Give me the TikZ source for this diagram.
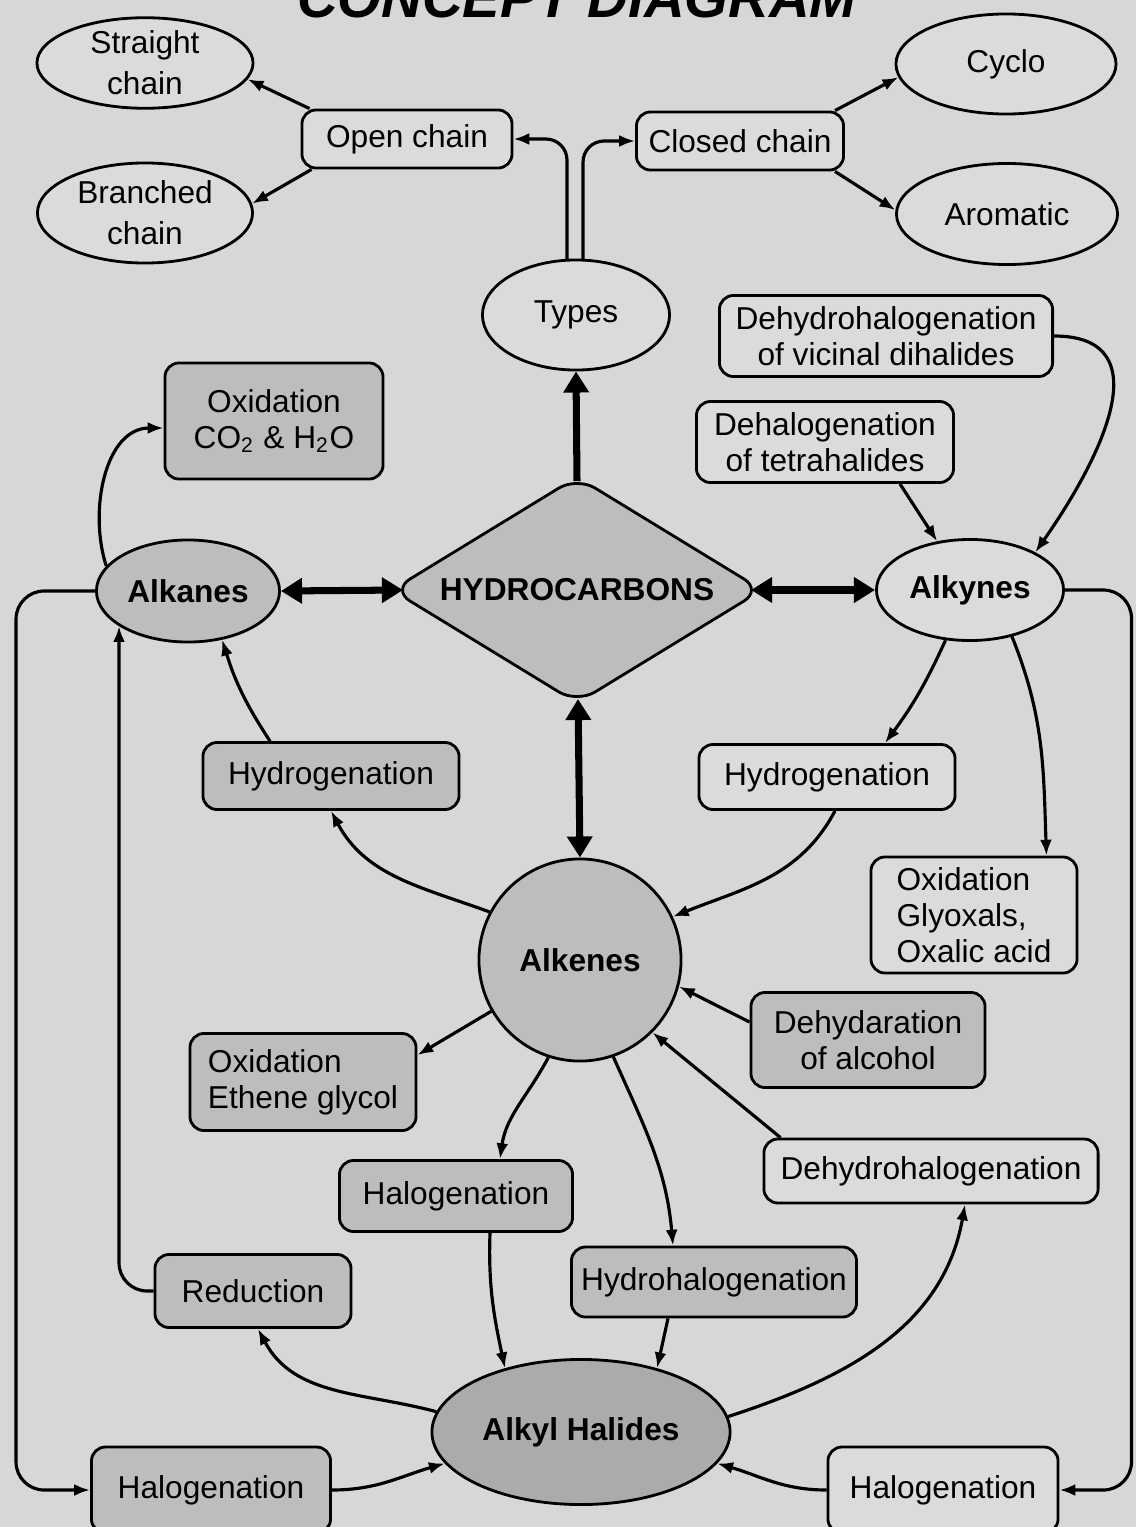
\documentclass[tikz,border=0pt]{standalone}
\usepackage{fontspec}
\setmainfont{Liberation Sans}
\usetikzlibrary{shapes.geometric,arrows.meta,calc}
\definecolor{bgc}{HTML}{D7D7D7}
\definecolor{shadec}{HTML}{BDBDBD}
\definecolor{darkc}{HTML}{ABABAB}
\definecolor{lightc}{HTML}{DBDBDB}
\begin{document}
\begin{tikzpicture}[x=0.01cm,y=-0.01cm,
  every node/.style={font=\fontsize{9}{10.3}\selectfont},
  box/.style={draw, line width=0.8pt, rounded corners=4pt, fill=lightc, align=center, inner sep=0pt},
  sbox/.style={box, fill=shadec},
  ell/.style={ellipse, draw, line width=0.8pt, fill=lightc, align=center, inner sep=0pt},
  sell/.style={ell, fill=shadec},
  bl/.style={font=\fontsize{9}{10.3}\selectfont\bfseries},
  conn/.style={line width=0.9pt, -{Latex[length=4.5pt,width=3.4pt]}},
  thickdbl/.style={line width=2pt, {Triangle[length=6pt,width=7pt]}-{Triangle[length=6pt,width=7pt]}},
  thickone/.style={line width=2pt, -{Triangle[length=6pt,width=7pt]}}
]
\useasboundingbox (0,0) rectangle (1136,1527);
\fill[bgc] (0,0) rectangle (1136,1527);

% title (cut off at the top, as in the reference)
\node[font=\fontsize{16}{16}\selectfont\bfseries\itshape, anchor=base, inner sep=0pt] (title) at (577,18) {CONCEPT DIAGRAM};

% nodes
\node[ell, minimum width=2.16cm, minimum height=0.90cm, font=\fontsize{9}{11.6}\selectfont] (straight) at (145,63) {Straight\\chain};
\node[ell, minimum width=2.15cm, minimum height=1.00cm, font=\fontsize{9}{11.6}\selectfont] (branched) at (145,213) {Branched\\chain};
\node[box, minimum width=2.10cm, minimum height=0.58cm] (open) at (407,139) {Open chain};
\node[box, minimum width=2.07cm, minimum height=0.58cm] (closed) at (740,141) {Closed chain};
\node[ell, minimum width=2.20cm, minimum height=1.00cm] (cyclo) at (1006,64) {Cyclo};
\node[ell, minimum width=2.21cm, minimum height=1.01cm] (aromatic) at (1007,214) {Aromatic};
\node[ell, minimum width=1.87cm, minimum height=1.10cm] (types) at (576,315) {Types};
\node[box, minimum width=3.33cm, minimum height=0.81cm] (dehydvic) at (886,336) {Dehydrohalogenation\\of vicinal dihalides};
\node[box, minimum width=2.57cm, minimum height=0.81cm] (dehalo) at (825,442) {Dehalogenation\\of tetrahalides};
\node[sbox, minimum width=2.18cm, minimum height=1.16cm] (oxco2) at (274,421) {Oxidation\\CO\textsubscript{2} \& H\textsubscript{2}O};

\node[diamond, draw, line width=0.8pt, fill=shadec, rounded corners=6pt, inner sep=0pt, minimum width=3.71cm, minimum height=2.27cm] (hc) at (577,590) {};
\node[bl] (hctext) at (hc) {HYDROCARBONS};

\node[sell, bl, minimum width=1.83cm, minimum height=1.02cm] (alkanes) at (188,591) {Alkanes};
\node[ell, bl, minimum width=1.87cm, minimum height=1.01cm] (alkynes) at (970,590) {Alkynes};
\node[sbox, minimum width=2.56cm, minimum height=0.67cm] (hydroL) at (331,776) {Hydrogenation};
\node[box, minimum width=2.56cm, minimum height=0.65cm] (hydroR) at (827,777) {Hydrogenation};
\node[box, minimum width=2.06cm, minimum height=1.16cm, align=left] (oxglyo) at (974,915) {Oxidation\\Glyoxals,\\Oxalic acid};
\node[circle, draw, line width=0.8pt, fill=shadec, bl, minimum size=2.02cm, inner sep=0pt] (alkenes) at (580,960) {Alkenes};
\node[sbox, minimum width=2.34cm, minimum height=0.95cm] (dehydalc) at (868,1040) {Dehydaration\\of alcohol};
\node[sbox, minimum width=2.26cm, minimum height=0.97cm, align=left] (oxeth) at (303,1082) {Oxidation\\Ethene glycol};
\node[box, minimum width=3.34cm, minimum height=0.64cm] (dehydhal) at (931,1171) {Dehydrohalogenation};
\node[sbox, minimum width=2.33cm, minimum height=0.71cm] (halogM) at (456,1196) {Halogenation};
\node[sbox, minimum width=2.85cm, minimum height=0.70cm] (hydrohal) at (714,1282) {Hydrohalogenation};
\node[sbox, minimum width=1.96cm, minimum height=0.73cm] (reduction) at (253,1291) {Reduction};
\node[ell, fill=darkc, bl, minimum width=2.98cm, minimum height=1.45cm] (alkylh) at (581,1432) {Alkyl Halides};
\node[sbox, minimum width=2.39cm, minimum height=0.86cm] (halogL) at (211,1490) {Halogenation};
\node[box, minimum width=2.30cm, minimum height=0.86cm] (halogR) at (943,1490) {Halogenation};

% connectors: types
\draw[conn, rounded corners=6pt] ($(types.north)+(-9,1)$) |- (open.east);
\draw[conn, rounded corners=6pt] ($(types.north)+(7,1)$) |- (closed.west);
\draw[conn] ($(open.north west)+(9,0)$) -- (straight.-9);
\draw[conn] ($(open.south west)+(11,0)$) -- (branched.5);
\draw[conn] ($(closed.north east)+(-10,0)$) -- (cyclo.187);
\draw[conn] ($(closed.south east)+(-10,0)$) -- (aromatic.178);

% thick arrows (ends on the rounded tips of the diamond)
\draw[thickone] ($(hc.north)+(0,6)$) -- (types.south);
\draw[thickdbl] (alkanes.east) -- ($(hc.west)+(13,0)$);
\draw[thickdbl] ($(hc.east)+(-13,0)$) -- (alkynes.west);
\draw[thickdbl] ($(hc.south)+(1,-6)$) -- (alkenes.north);

% alkanes
\draw[conn] (alkanes.163) to[out=108, in=180] ($(oxco2.west)+(0,7)$);
\draw[conn, rounded corners=8pt] (alkanes.west) -| ($(halogL.west)+(-74,0)$) -- (halogL.west);
\draw[conn] ($(hydroL.north)+(-61,0)$) to[bend left=8] (alkanes.-55);

% alkynes
\draw[conn] (dehydvic.east) to[out=0, in=55, looseness=1.3] (alkynes.30);
\draw[conn] ($(dehalo.south)+(75,0)$) -- (alkynes.124);
\draw[conn] (alkynes.-116) to[bend left=6] ($(hydroR.north)+(58,0)$);
\draw[conn] (alkynes.-48) to[out=-68, in=92] ($(oxglyo.north east)+(-32,0)$);
\draw[conn, rounded corners=8pt] (alkynes.east) -| ($(halogR.east)+(72,0)$) -- (halogR.east);

% alkenes
\draw[conn] (alkenes.152) to[out=160, in=-62] (hydroL.south);
\draw[conn] ($(hydroR.south)+(8,0)$) to[out=-118, in=22] (alkenes.25);
\draw[conn] (alkenes.210) -- ($(oxeth.north east)+(0,23)$);
\draw[conn] ($(dehydalc.west)+(0,-18)$) -- (alkenes.-15);
\draw[conn] ($(dehydhal.north west)+(18,0)$) -- (alkenes.-45);
\draw[conn] (alkenes.-108) to[out=-118, in=82] ($(halogM.north)+(44,0)$);
\draw[conn] (alkenes.-71) to[out=-66, in=95] ($(hydrohal.north)+(-41,0)$);

% alkyl halides
\draw[conn] ($(halogM.south)+(34,0)$) to[out=-92, in=102] (alkylh.140);
\draw[conn] ($(hydrohal.south)+(-46,0)$) -- (alkylh.40);
\draw[conn] (alkylh.172) to[out=165, in=-62] ($(reduction.south)+(5,0)$);
\draw[conn, rounded corners=8pt] (reduction.west) -| (alkanes.-153);
\draw[conn] (alkylh.6) to[out=18, in=-100] ($(dehydhal.south)+(34,0)$);
\draw[conn] (halogL.east) to[out=0, in=196] (alkylh.193);
\draw[conn] (halogR.west) to[out=180, in=-16] (alkylh.-13);
\end{tikzpicture}
\end{document}
